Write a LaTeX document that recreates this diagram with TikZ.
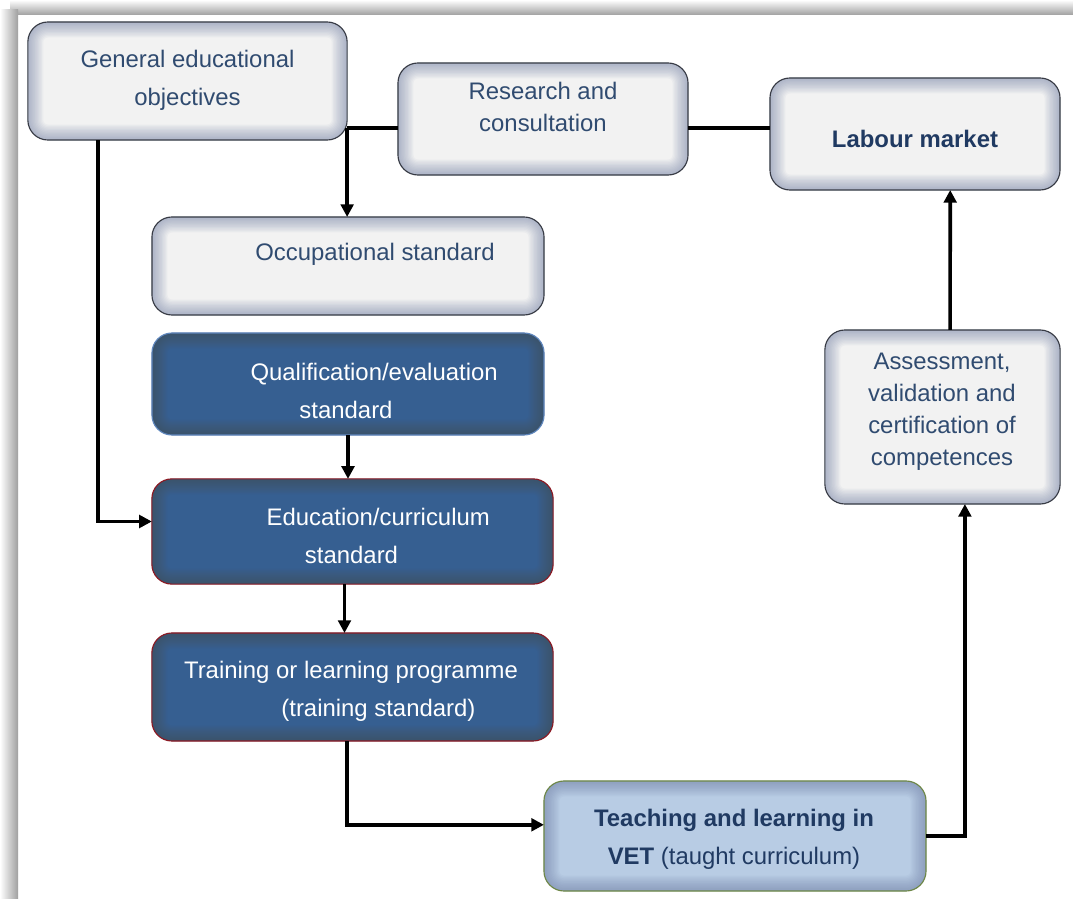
\documentclass[tikz,border=0pt]{standalone}
\usepackage{fontspec}
\setmainfont{Liberation Sans}
\usetikzlibrary{arrows.meta}

\definecolor{boxfill}{RGB}{242,242,242}
\definecolor{boxedge}{RGB}{55,58,68}
\definecolor{glowblue}{RGB}{105,120,160}
\definecolor{darkblue}{RGB}{54,95,145}
\definecolor{qualedge}{RGB}{95,135,190}
\definecolor{rededge}{RGB}{140,25,35}
\definecolor{teachfill}{RGB}{184,204,228}
\definecolor{oliveedge}{RGB}{110,135,70}
\definecolor{textblue}{RGB}{48,75,112}
\definecolor{boldblue}{RGB}{32,58,98}

\tikzset{
	glow/.style={path picture={
		\foreach \w in {2,4,...,22}
			\draw[line width=\w pt,#1,opacity=0.055,rounded corners=0.5cm]
				(path picture bounding box.south west) rectangle (path picture bounding box.north east);
	}},
	box/.style={rounded corners=0.5cm,inner sep=0pt,outer sep=0pt,line width=0.8pt},
	lightbox/.style={box,draw=boxedge,fill=boxfill,glow=glowblue},
	darkbox/.style={box,draw=#1,fill=darkblue,glow=black!70},
	conn/.style={line width=2.6pt},
	arr/.style={conn,-{Triangle[length=9pt,width=9pt]}},
	txt/.style={align=center,text=textblue,font=\fontsize{17}{27}\selectfont},
	wtxt/.style={txt,text=white},
}

\begin{document}
\begin{tikzpicture}[x=0.025cm,y=-0.025cm]
	\useasboundingbox (0,0) rectangle (1073,899);
	\fill[white] (0,0) rectangle (1073,899);
	\shade[top color=white,bottom color=gray!75] (10,0) rectangle (1073,15);
	\shade[left color=white,right color=gray!75] (0,10) rectangle (18,899);

	\node[lightbox,minimum width=7.98cm,minimum height=2.95cm] (geo) at (187.5,81) {};
	\node[lightbox,minimum width=7.25cm,minimum height=2.8cm] (research) at (543,119) {};
	\node[lightbox,minimum width=7.25cm,minimum height=2.8cm] (labour) at (915,134) {};
	\node[lightbox,minimum width=9.8cm,minimum height=2.45cm] (occup) at (348,266) {};
	\node[darkbox=qualedge,minimum width=9.8cm,minimum height=2.55cm] (qual) at (348,384) {};
	\node[darkbox=rededge,minimum width=10.03cm,minimum height=2.63cm] (educ) at (352.5,531.5) {};
	\node[darkbox=rededge,minimum width=10.03cm,minimum height=2.7cm] (train) at (352.5,687) {};
	\node[box,draw=oliveedge,fill=teachfill,glow=glowblue,minimum width=9.55cm,minimum height=2.75cm] (teach) at (735,836) {};
	\node[lightbox,minimum width=5.88cm,minimum height=4.35cm] (assess) at (942.5,417) {};

	\node[txt] (geotext) at (187.5,80) {General educational\\objectives};
	\node[txt,font=\fontsize{17}{22.8}\selectfont] (researchtext) at (543,107) {Research and\\consultation};
	\node[txt,text=boldblue,font=\fontsize{17}{27}\selectfont\bfseries] (labourtext) at (915,139) {Labour market};
	\node[txt] (occuptext) at (375,254) {Occupational standard};
	\node[wtxt] (qualtext) at (346,391) {\hspace*{40pt}Qualification/evaluation\\standard};
	\node[wtxt] (eductext) at (351.5,536) {\hspace*{38pt}Education/curriculum\\standard};
	\node[wtxt] (traintext) at (351,691.5) {Training or learning programme\\\hspace*{39pt}(training standard)};
	\node[txt,text=boldblue] (teachtext) at (734,839) {\textbf{Teaching and learning in}\\\textbf{VET} (taught curriculum)};
	\node[txt,font=\fontsize{17}{22.8}\selectfont] (assesstext) at (942,412) {Assessment,\\validation and\\certification of\\competences};

	\path ([yshift=-0.22cm]research.west) coordinate (rw);
	\draw[conn] (rw) -- (rw -| geo.east) coordinate (split);
	\draw[arr] (split) -- (split |- occup.north);
	\draw[conn] (rw -| research.east) -- (rw -| labour.west);
	\draw[arr] ([xshift=1.75cm]geo.south west) |- ([yshift=0.25cm]educ.west);
	\draw[arr] (qual.south) -- (qual.south |- educ.north);
	\draw[arr] ([xshift=-0.2cm]educ.south) -- ([xshift=-0.2cm]train.north);
	\draw[arr] ([xshift=-0.13cm]train.south) |- ([yshift=0.28cm]teach.west);
	\draw[arr] (teach.east) -| ([xshift=0.56cm]assess.south);
	\draw[arr] ([xshift=0.19cm]assess.north) -- ([xshift=0.88cm]labour.south);
\end{tikzpicture}
\end{document}
